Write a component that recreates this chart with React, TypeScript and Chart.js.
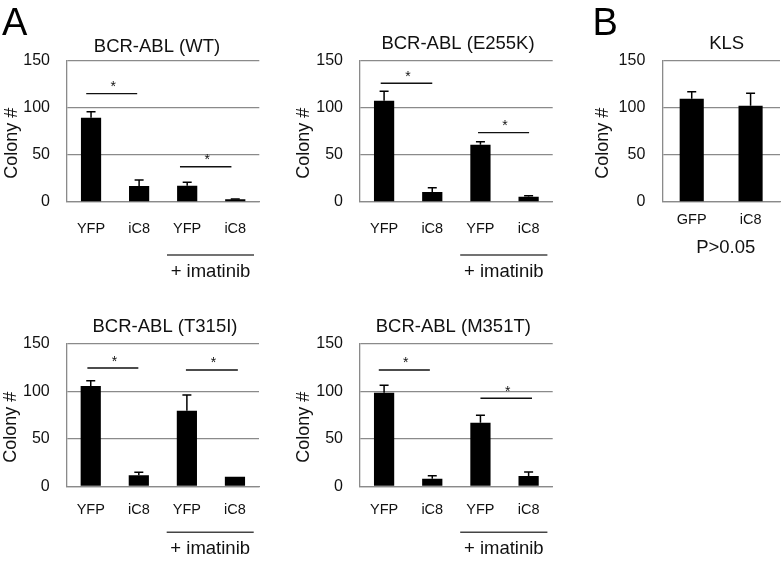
import React, { useEffect, useRef } from "react";
import { Chart, registerables } from "chart.js";

Chart.register(...registerables);

const FONT = "'Liberation Sans', Arial, Helvetica, sans-serif";

// ---------- data ----------
const yTickMin = 0;
const yTickMax = 150;
const yTickStep = 50;

const mutantCategories = ["YFP", "iC8", "YFP", "iC8"];
const klsCategories = ["GFP", "iC8"];

// BCR-ABL (WT)
const wtMeans = [89.5, 17, 17.3, 2.8];
const wtErrors = [6.4, 6.4, 3.6, 0.4];
const wtBracketFrom = [-0.1, 1.85];
const wtBracketTo = [0.96, 2.92];
const wtBracketY = [115, 37.5];

// BCR-ABL (E255K)
const e255kMeans = [107.5, 10.6, 60.8, 5.6];
const e255kErrors = [10, 4.6, 3.2, 1];
const e255kBracketFrom = [-0.07, 1.95];
const e255kBracketTo = [1.0, 3.01];
const e255kBracketY = [126, 73.6];

// KLS
const klsMeans = [109.7, 102.2];
const klsErrors = [7.4, 13.2];

// BCR-ABL (T315I)
const t315iMeans = [105.7, 11.6, 79.7, 10.1];
const t315iErrors = [5.6, 3.2, 16.5, 0];
const t315iBracketFrom = [-0.07, 1.98];
const t315iBracketTo = [0.99, 3.06];
const t315iBracketY = [124.7, 122.6];

// BCR-ABL (M351T)
const m351tMeans = [98.7, 8.0, 67, 10.9];
const m351tErrors = [7.8, 3.2, 7.8, 4.2];
const m351tBracketFrom = [-0.11, 2.0];
const m351tBracketTo = [0.95, 3.07];
const m351tBracketY = [122.6, 92.8];

// "+ imatinib" group span in category units
const imatinibSpan = [1.58, 3.39];

// ---------- types ----------
type Box = { left: number; top: number; width: number; height: number };
type Area = { left: number; top: number; right: number; bottom: number };
type Bracket = { from: number; to: number; y: number };

type PanelSpec = {
  title: string;
  categories: string[];
  means: number[];
  errors: number[];
  brackets: Bracket[];
  group?: { label: string; from: number; to: number; offset: number };
  note?: { text: string; x: number; y: number };
  box: Box;
  area: Area;
  titleX: number;
  titleY: number;
  labelCenter: number;
  yTitleOffset: number;
  barFraction: number;
};

const makeBrackets = (from: number[], to: number[], y: number[]): Bracket[] =>
  from.map((f, i) => ({ from: f, to: to[i], y: y[i] }));

const panels: PanelSpec[] = [
  {
    title: "BCR-ABL (WT)",
    categories: mutantCategories,
    means: wtMeans,
    errors: wtErrors,
    brackets: makeBrackets(wtBracketFrom, wtBracketTo, wtBracketY),
    group: { label: "+ imatinib", from: imatinibSpan[0], to: imatinibSpan[1], offset: 53 },
    box: { left: 0, top: 0, width: 290, height: 280 },
    area: { left: 67, top: 60.7, right: 259.3, bottom: 202 },
    titleX: 157,
    titleY: 47,
    labelCenter: 26.5,
    yTitleOffset: 55,
    barFraction: 0.42,
  },
  {
    title: "BCR-ABL (E255K)",
    categories: mutantCategories,
    means: e255kMeans,
    errors: e255kErrors,
    brackets: makeBrackets(e255kBracketFrom, e255kBracketTo, e255kBracketY),
    group: { label: "+ imatinib", from: imatinibSpan[0], to: imatinibSpan[1], offset: 53 },
    box: { left: 290, top: 0, width: 280, height: 280 },
    area: { left: 360, top: 60.7, right: 552.7, bottom: 202 },
    titleX: 458,
    titleY: 44,
    labelCenter: 26.5,
    yTitleOffset: 56,
    barFraction: 0.42,
  },
  {
    title: "KLS",
    categories: klsCategories,
    means: klsMeans,
    errors: klsErrors,
    brackets: [],
    note: { text: "P>0.05", x: 725.7, y: 248.3 },
    box: { left: 570, top: 0, width: 213, height: 280 },
    area: { left: 662.3, top: 60.7, right: 780, bottom: 202 },
    titleX: 726.7,
    titleY: 43.5,
    labelCenter: 18,
    yTitleOffset: 59,
    barFraction: 0.41,
  },
  {
    title: "BCR-ABL (T315I)",
    categories: mutantCategories,
    means: t315iMeans,
    errors: t315iErrors,
    brackets: makeBrackets(t315iBracketFrom, t315iBracketTo, t315iBracketY),
    group: { label: "+ imatinib", from: imatinibSpan[0], to: imatinibSpan[1], offset: 46 },
    box: { left: 0, top: 280, width: 290, height: 282 },
    area: { left: 66.7, top: 344, right: 259, bottom: 486.3 },
    titleX: 165,
    titleY: 326.7,
    labelCenter: 23.7,
    yTitleOffset: 56,
    barFraction: 0.42,
  },
  {
    title: "BCR-ABL (M351T)",
    categories: mutantCategories,
    means: m351tMeans,
    errors: m351tErrors,
    brackets: makeBrackets(m351tBracketFrom, m351tBracketTo, m351tBracketY),
    group: { label: "+ imatinib", from: imatinibSpan[0], to: imatinibSpan[1], offset: 46 },
    box: { left: 290, top: 280, width: 280, height: 282 },
    area: { left: 360, top: 344, right: 552.7, bottom: 486.3 },
    titleX: 453.3,
    titleY: 326.7,
    labelCenter: 23.7,
    yTitleOffset: 56,
    barFraction: 0.42,
  },
];

const X_AXIS_H = 40;
const X_LABEL_SIZE = 14.5;

function makeOverlay(spec: PanelSpec) {
  return {
    id: "overlay",
    afterDatasetsDraw(chart: any) {
      const ctx: CanvasRenderingContext2D = chart.ctx;
      const xs = chart.scales.x;
      const ys = chart.scales.y;
      const meta = chart.getDatasetMeta(0);
      const ca = chart.chartArea;
      const ox = spec.box.left;
      const oy = spec.box.top;
      ctx.save();

      // error bars (upper)
      ctx.strokeStyle = "#000";
      ctx.lineWidth = 1.5;
      meta.data.forEach((bar: any, i: number) => {
        const err = spec.errors[i];
        if (!err) return;
        const base = ys.getPixelForValue(spec.means[i]);
        const top = ys.getPixelForValue(spec.means[i] + err);
        ctx.beginPath();
        ctx.moveTo(bar.x, base);
        ctx.lineTo(bar.x, top);
        ctx.moveTo(bar.x - 4.5, top);
        ctx.lineTo(bar.x + 4.5, top);
        ctx.stroke();
      });

      // significance brackets
      ctx.lineWidth = 1.4;
      ctx.strokeStyle = "#111";
      ctx.fillStyle = "#111";
      ctx.font = `14px ${FONT}`;
      ctx.textAlign = "center";
      ctx.textBaseline = "alphabetic";
      spec.brackets.forEach((b) => {
        const x1 = xs.getPixelForValue(b.from);
        const x2 = xs.getPixelForValue(b.to);
        const y = ys.getPixelForValue(b.y);
        ctx.beginPath();
        ctx.moveTo(x1, y);
        ctx.lineTo(x2, y);
        ctx.stroke();
        ctx.fillText("*", (x1 + x2) / 2 + 1.5, y - 2.5);
      });

      // group line + label
      if (spec.group) {
        const g = spec.group;
        const x1 = xs.getPixelForValue(g.from);
        const x2 = xs.getPixelForValue(g.to);
        const y = ca.bottom + g.offset;
        ctx.strokeStyle = "#444";
        ctx.lineWidth = 1.5;
        ctx.beginPath();
        ctx.moveTo(x1, y);
        ctx.lineTo(x2, y);
        ctx.stroke();
        ctx.fillStyle = "#111";
        ctx.font = `18.5px ${FONT}`;
        ctx.textBaseline = "middle";
        ctx.fillText(g.label, (x1 + x2) / 2, y + 17);
      }

      // note
      if (spec.note) {
        ctx.fillStyle = "#111";
        ctx.font = `18.5px ${FONT}`;
        ctx.textBaseline = "middle";
        ctx.textAlign = "center";
        ctx.fillText(spec.note.text, spec.note.x - ox, spec.note.y - oy);
      }

      // title
      ctx.fillStyle = "#111";
      ctx.font = `18.5px ${FONT}`;
      ctx.textAlign = "center";
      ctx.textBaseline = "middle";
      ctx.fillText(spec.title, spec.titleX - ox, spec.titleY - oy);

      // y-axis title
      ctx.save();
      ctx.translate(ca.left - spec.yTitleOffset, (ca.top + ca.bottom) / 2 + 12);
      ctx.rotate(-Math.PI / 2);
      ctx.font = `18px ${FONT}`;
      ctx.textAlign = "center";
      ctx.textBaseline = "middle";
      ctx.fillText("Colony #", 0, 0);
      ctx.restore();

      ctx.restore();
    },
  };
}

function Panel({ spec }: { spec: PanelSpec }) {
  const ref = useRef<HTMLCanvasElement | null>(null);
  useEffect(() => {
    if (!ref.current) return;
    const { box, area } = spec;
    const yWidth = area.left - box.left;
    const chart = new Chart(ref.current, {
      type: "bar",
      data: {
        labels: spec.categories,
        datasets: [
          {
            data: spec.means,
            backgroundColor: "#000",
            borderWidth: 0,
            barPercentage: spec.barFraction,
            categoryPercentage: 1,
          },
        ],
      },
      options: {
        animation: false,
        responsive: true,
        maintainAspectRatio: false,
        devicePixelRatio: window.devicePixelRatio || 1,
        layout: {
          padding: {
            left: 0,
            top: area.top - box.top,
            right: box.left + box.width - area.right,
            bottom: box.top + box.height - area.bottom - X_AXIS_H,
          },
        },
        plugins: {
          legend: { display: false },
          tooltip: { enabled: false },
          title: { display: false },
        },
        scales: {
          x: {
            offset: true,
            grid: { display: false, drawTicks: false },
            border: { display: true, color: "#8a8a8a", width: 1.3 },
            ticks: {
              padding: spec.labelCenter - (X_LABEL_SIZE * 1.2) / 2,
              color: "#111",
              font: { family: FONT, size: X_LABEL_SIZE },
              maxRotation: 0,
              autoSkip: false,
            },
            afterFit: (s: any) => {
              s.height = X_AXIS_H;
            },
          },
          y: {
            min: yTickMin,
            max: yTickMax,
            ticks: {
              stepSize: yTickStep,
              padding: 17,
              color: "#111",
              font: { family: FONT, size: 16 },
            },
            grid: { color: "#8a8a8a", lineWidth: 1.3, drawTicks: false },
            border: { display: true, color: "#8a8a8a", width: 1.3 },
            afterFit: (s: any) => {
              s.width = yWidth;
            },
          },
        },
      },
      plugins: [makeOverlay(spec)],
    });
    return () => chart.destroy();
  }, [spec]);

  return (
    <div
      style={{
        position: "absolute",
        left: spec.box.left,
        top: spec.box.top,
        width: spec.box.width,
        height: spec.box.height,
      }}
    >
      <canvas ref={ref} />
    </div>
  );
}

export default function App() {
  return (
    <div
      style={{
        position: "absolute",
        left: 0,
        top: 0,
        width: 783,
        height: 562,
        background: "#fff",
        overflow: "hidden",
      }}
    >
      {panels.map((p) => (
        <Panel key={p.title} spec={p} />
      ))}
      <div
        style={{
          position: "absolute",
          left: 2,
          top: 2.8,
          fontFamily: FONT,
          fontSize: 38,
          lineHeight: 1,
          color: "#000",
        }}
      >
        A
      </div>
      <div
        style={{
          position: "absolute",
          left: 592.5,
          top: 2.8,
          fontFamily: FONT,
          fontSize: 38,
          lineHeight: 1,
          color: "#000",
        }}
      >
        B
      </div>
    </div>
  );
}
